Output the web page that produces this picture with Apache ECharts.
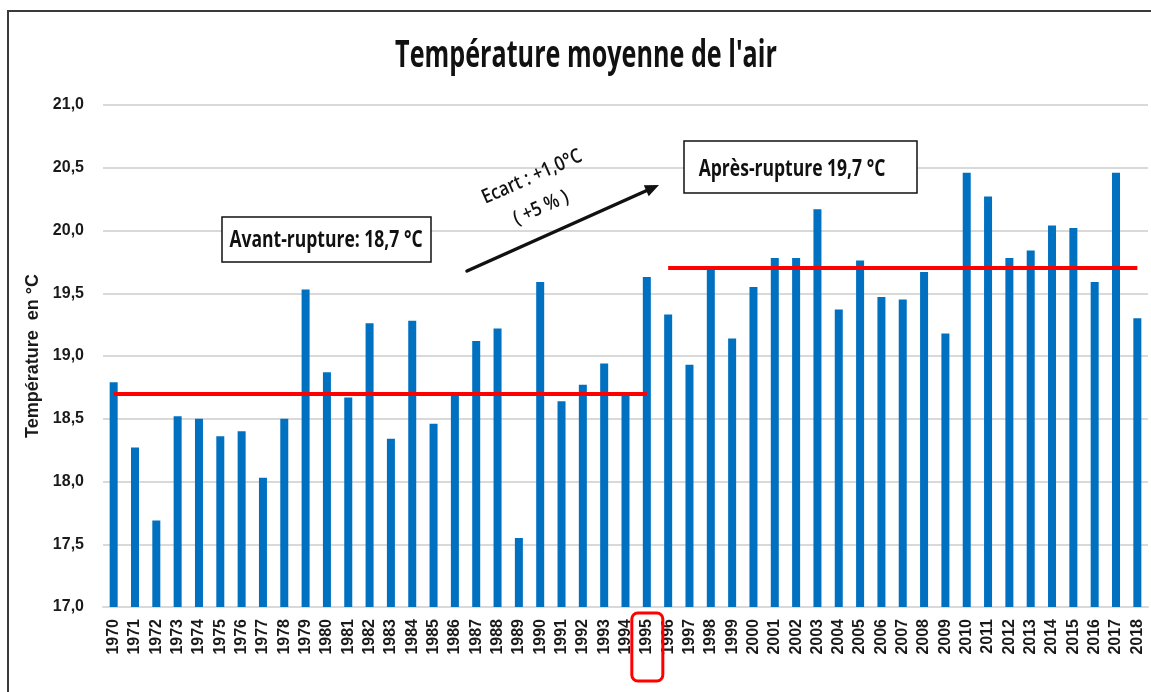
<!DOCTYPE html>
<html>
<head>
<meta charset="utf-8">
<title>Température moyenne de l'air</title>
<script src="https://cdn.jsdelivr.net/npm/echarts@6/dist/echarts.min.js"></script>
<style>
  html, body { margin: 0; padding: 0; background: #ffffff; }
  #chart { width: 1151px; height: 692px; }
</style>
</head>
<body>
<div id="chart"></div>
<script>
// Annual mean air temperature, 1970–2018 (°C)
const years = [
  '1970','1971','1972','1973','1974','1975','1976','1977','1978','1979',
  '1980','1981','1982','1983','1984','1985','1986','1987','1988','1989',
  '1990','1991','1992','1993','1994','1995','1996','1997','1998','1999',
  '2000','2001','2002','2003','2004','2005','2006','2007','2008','2009',
  '2010','2011','2012','2013','2014','2015','2016','2017','2018'
];
const temperatures = [
  18.79, 18.27, 17.69, 18.52, 18.50, 18.36, 18.40, 18.03, 18.50, 19.53,
  18.87, 18.67, 19.26, 18.34, 19.28, 18.46, 18.70, 19.12, 19.22, 17.55,
  19.59, 18.64, 18.77, 18.94, 18.70, 19.63, 19.33, 18.93, 19.70, 19.14,
  19.55, 19.78, 19.78, 20.17, 19.37, 19.76, 19.47, 19.45, 19.67, 19.18,
  20.46, 20.27, 19.78, 19.84, 20.04, 20.02, 19.59, 20.46, 19.30
];
// Break year and the mean level of each period
const breakYear = '1995';
const meanBefore = 18.7;
const meanAfter = 19.7;
const periodBefore = ['1970', '1995'];
const periodAfter = ['1996', '2018'];
const yTicks = { min: 17, max: 21, step: 0.5 };

const fmt = v => v.toFixed(1).replace('.', ',');
const frFont = '"Open Sans", "Liberation Sans", sans-serif';

const chart = echarts.init(document.getElementById('chart'), null, { renderer: 'canvas' });

// Arrow shaft + head as graphic elements
function arrow(id, x1, y1, x2, y2, headLen, headHalf, color, width) {
  const dx = x2 - x1, dy = y2 - y1, len = Math.hypot(dx, dy);
  const ux = dx / len, uy = dy / len, nx = -uy, ny = ux;
  const bx = x2 - ux * headLen, by = y2 - uy * headLen;
  return [
    { id: id + '-shaft', type: 'line', z: 10, shape: { x1, y1, x2: bx, y2: by },
      style: { stroke: color, lineWidth: width, lineCap: 'round' } },
    { id: id + '-head', type: 'polygon', z: 10,
      shape: { points: [[x2, y2], [bx + nx * headHalf, by + ny * headHalf], [bx - nx * headHalf, by - ny * headHalf]] },
      style: { fill: color } }
  ];
}

function label(id, x, y, text, size, weight, sx, rot) {
  return {
    id, type: 'text', x, y, scaleX: sx, rotation: rot || 0, z: 11,
    style: {
      text, fill: '#111', font: `${weight} ${size}px ${frFont}`,
      align: 'center', verticalAlign: 'middle'
    }
  };
}

const option = {
  animation: false,
  backgroundColor: '#ffffff',
  grid: { left: 103, right: 3, top: 105, bottom: 85, containLabel: false },
  xAxis: {
    type: 'category',
    data: years,
    axisTick: { show: false },
    axisLine: { lineStyle: { color: '#d9d9d9', width: 2 } },
    axisLabel: {
      interval: 0, rotate: 90, margin: 12,
      color: '#1a1a1a', fontWeight: 'bold', fontSize: 16,
      fontFamily: '"Liberation Sans", Arial, sans-serif'
    }
  },
  yAxis: {
    type: 'value',
    min: yTicks.min, max: yTicks.max, interval: yTicks.step,
    name: 'Température  en °C',
    nameLocation: 'middle',
    nameGap: 61,
    nameRotate: 90,
    nameTextStyle: {
      color: '#1a1a1a', fontWeight: 'bold', fontSize: 18,
      fontFamily: '"Liberation Sans", Arial, sans-serif'
    },
    axisLine: { show: false },
    axisTick: { show: false },
    axisLabel: {
      margin: 19, formatter: fmt,
      color: '#1a1a1a', fontWeight: 'bold', fontSize: 16,
      fontFamily: '"Liberation Sans", Arial, sans-serif'
    },
    splitLine: { lineStyle: { color: '#d9d9d9', width: 2 } }
  },
  series: [{
    type: 'bar',
    data: temperatures,
    barWidth: 8,
    itemStyle: { color: '#0070c0' },
    silent: true,
    markLine: {
      silent: true,
      symbol: ['none', 'none'],
      label: { show: false },
      lineStyle: { color: '#ff0000', width: 4, type: 'solid' },
      data: [
        [{ coord: [periodBefore[0], meanBefore] }, { coord: [periodBefore[1], meanBefore] }],
        [{ coord: [periodAfter[0], meanAfter] }, { coord: [periodAfter[1], meanAfter] }]
      ]
    }
  }],
  graphic: [
    // outer frame
    { id: 'frame', type: 'rect', z: 0, silent: true,
      shape: { x: 8, y: 11, width: 1200, height: 800 },
      style: { fill: 'none', stroke: '#3a3a3a', lineWidth: 2 } },
    // title
    label('title', 586, 56, "Température moyenne de l'air", 37, 'bold', 0.68),
    // period boxes
    { id: 'box-before', type: 'rect', z: 10, shape: { x: 222, y: 217, width: 209, height: 45 },
      style: { fill: '#ffffff', stroke: '#111', lineWidth: 1.5 } },
    label('txt-before', 326, 240, 'Avant-rupture: 18,7 °C', 24, 'bold', 0.73),
    { id: 'box-after', type: 'rect', z: 10, shape: { x: 684, y: 141, width: 233, height: 52 },
      style: { fill: '#ffffff', stroke: '#111', lineWidth: 1.5 } },
    label('txt-after', 792, 169, 'Après-rupture 19,7 °C', 24, 'bold', 0.73),
    // shift annotation
    ...arrow('shift', 467, 271, 659, 185, 14, 6, '#111', 3.5),
    label('txt-shift', 532, 177, 'Ecart : +1,0°C', 20, '600', 0.85, 24 * Math.PI / 180),
    label('txt-pct', 541, 208, '( +5 % )', 20, '600', 0.85, 24 * Math.PI / 180)
  ]
};

chart.setOption(option);

// highlight the break year label on the category axis
const bx = chart.convertToPixel({ xAxisIndex: 0 }, breakYear);
chart.setOption({
  graphic: [{
    id: 'break-year', type: 'rect', z: 12, silent: true,
    shape: { x: bx - 15, y: 613, width: 31, height: 68, r: 6 },
    style: { fill: 'none', stroke: '#ff0000', lineWidth: 3 }
  }]
});
</script>
</body>
</html>
